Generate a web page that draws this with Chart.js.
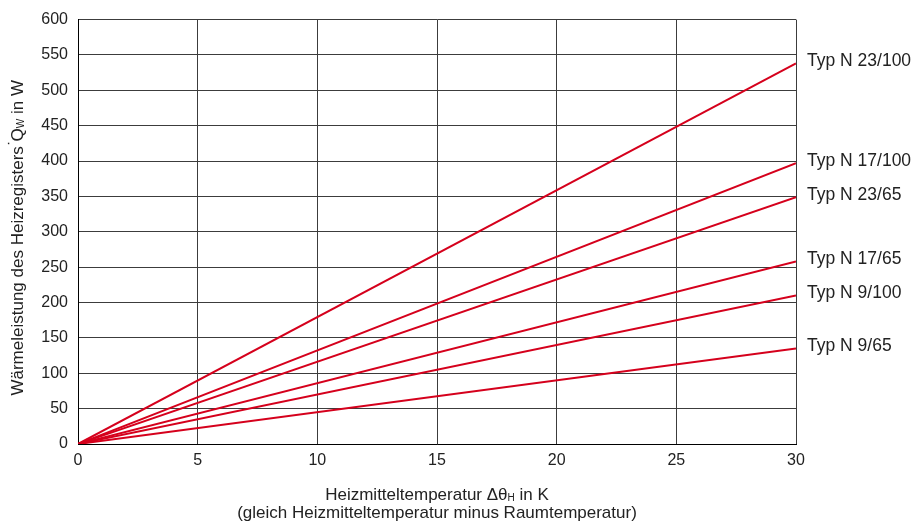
<!DOCTYPE html>
<html>
<head>
<meta charset="utf-8">
<script src="https://cdn.jsdelivr.net/npm/chart.js@4/dist/chart.umd.min.js"></script>
<style>
  html, body { margin: 0; padding: 0; background: #fff; }
</style>
</head>
<body>
<canvas id="chart" width="912" height="522"></canvas>
<script>
// Daten aus dem Diagramm (Leistung bei Δθ = 30 K, Geraden durch den Ursprung)
const xRange = [0, 30];
const seriesNames = ["Typ N 23/100", "Typ N 17/100", "Typ N 23/65", "Typ N 17/65", "Typ N 9/100", "Typ N 9/65"];
const startValues = [0, 0, 0, 0, 0, 0];
const endValues = [538, 397, 349, 258, 210, 135];
const xTicks = [0, 5, 10, 15, 20, 25, 30];
const yTicks = [0, 50, 100, 150, 200, 250, 300, 350, 400, 450, 500, 550, 600];

const FONT = "'Liberation Sans', Arial, sans-serif";
const TEXT = "#222";
const RED = "#d5001c";

// Beschriftung rechts neben den Linien
const lineLabels = {
  id: "lineLabels",
  afterDatasetsDraw(chart) {
    const { ctx, chartArea, scales } = chart;
    ctx.save();
    ctx.font = "17.5px " + FONT;
    ctx.fillStyle = TEXT;
    ctx.textAlign = "left";
    ctx.textBaseline = "middle";
    chart.data.datasets.forEach(ds => {
      const last = ds.data[ds.data.length - 1];
      const y = scales.y.getPixelForValue(last.y) - 2;
      ctx.fillText(ds.label, chartArea.right + 11, y);
    });
    ctx.restore();
  }
};

// Text mit Tiefstellung zeichnen
function drawParts(ctx, parts, x, y) {
  let w = 0;
  parts.forEach(p => {
    ctx.font = (p.sub ? "10px " : "17px ") + FONT;
    w += ctx.measureText(p.t).width;
  });
  let cx = x - w / 2;
  parts.forEach(p => {
    ctx.font = (p.sub ? "10px " : "17px ") + FONT;
    ctx.fillText(p.t, cx, y + (p.sub ? 3 : 0));
    if (p.dot) {
      ctx.font = "17px " + FONT;
      ctx.fillText("˙", cx - 4, y - 3);
    }
    cx += ctx.measureText(p.t).width;
  });
}

// Achsentitel
const axisTitles = {
  id: "axisTitles",
  afterDraw(chart) {
    const { ctx, chartArea } = chart;
    const midX = (chartArea.left + chartArea.right) / 2;
    const midY = (chartArea.top + chartArea.bottom) / 2;
    ctx.save();
    ctx.fillStyle = TEXT;
    ctx.textAlign = "left";
    ctx.textBaseline = "middle";
    drawParts(ctx, [
      { t: "Heizmitteltemperatur Δθ" },
      { t: "H", sub: true },
      { t: " in K" }
    ], midX, 495);
    drawParts(ctx, [{ t: "(gleich Heizmitteltemperatur minus Raumtemperatur)" }], midX, 513);

    ctx.translate(18, midY + 6);
    ctx.rotate(-Math.PI / 2);
    drawParts(ctx, [
      { t: "Wärmeleistung des Heizregisters " },
      { t: "Q", dot: true },
      { t: "W", sub: true },
      { t: " in W" }
    ], 0, 0);
    ctx.restore();
  }
};

const ctx = document.getElementById("chart").getContext("2d");
new Chart(ctx, {
  type: "line",
  data: {
    datasets: seriesNames.map((name, i) => ({
      label: name,
      data: [
        { x: xRange[0], y: startValues[i] },
        { x: xRange[1], y: endValues[i] }
      ],
      borderColor: RED,
      borderWidth: 2,
      pointRadius: 0,
      fill: false,
      tension: 0
    }))
  },
  options: {
    responsive: false,
    animation: false,
    devicePixelRatio: 1,
    layout: { padding: { top: 19, right: 116, left: 0, bottom: 0 } },
    plugins: {
      legend: { display: false },
      tooltip: { enabled: false }
    },
    scales: {
      x: {
        type: "linear",
        min: xTicks[0],
        max: xTicks[xTicks.length - 1],
        afterBuildTicks: s => { s.ticks = xTicks.map(v => ({ value: v })); },
        afterFit: s => { s.height = 78; },
        ticks: { color: TEXT, font: { family: FONT, size: 16 }, padding: 7, maxRotation: 0 },
        grid: { color: "#3c3c3c", lineWidth: 1, drawTicks: false },
        border: { color: "#000", width: 1 }
      },
      y: {
        type: "linear",
        min: yTicks[0],
        max: yTicks[yTicks.length - 1],
        afterBuildTicks: s => { s.ticks = yTicks.map(v => ({ value: v })); },
        afterFit: s => { s.width = 78; },
        ticks: { color: TEXT, font: { family: FONT, size: 16 }, padding: 10 },
        grid: { color: "#3c3c3c", lineWidth: 1, drawTicks: false },
        border: { color: "#000", width: 1 }
      }
    }
  },
  plugins: [lineLabels, axisTitles]
});
</script>
</body>
</html>
